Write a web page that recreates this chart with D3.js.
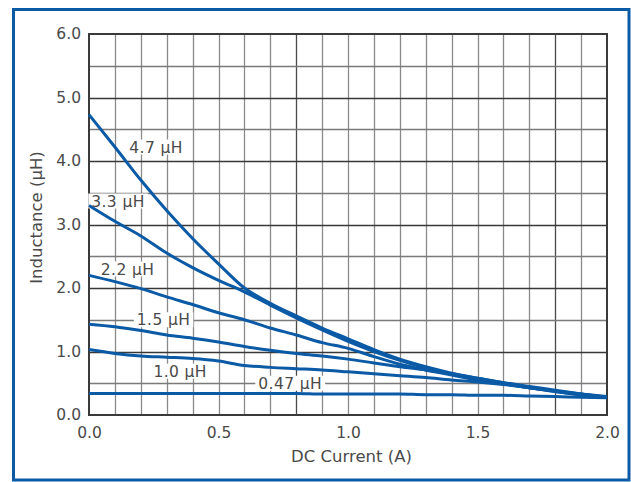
<!DOCTYPE html>
<html>
<head>
<meta charset="utf-8">
<script src="https://cdn.jsdelivr.net/npm/d3@7"></script>
<style>
  html, body { margin: 0; padding: 0; background: #fff; }
  svg { display: block; }
  text { font-family: "DejaVu Sans", "Liberation Sans", sans-serif; }
</style>
</head>
<body>
<svg id="chart" width="631" height="482"></svg>
<script>
// ---- data ----
const currents = [0, 0.1, 0.2, 0.3, 0.4, 0.5, 0.6, 0.7, 0.8, 0.9, 1.0, 1.1, 1.2, 1.3, 1.4, 1.5, 1.6, 1.7, 1.8, 1.9, 2.0];
const seriesNames = ["4.7 μH", "3.3 μH", "2.2 μH", "1.5 μH", "1.0 μH", "0.47 μH"];
const L4_7 = [4.73, 4.22, 3.70, 3.22, 2.78, 2.38, 2.00, 1.76, 1.56, 1.37, 1.20, 1.03, 0.88, 0.76, 0.66, 0.58, 0.51, 0.44, 0.38, 0.33, 0.29];
const L3_3 = [3.30, 3.05, 2.82, 2.55, 2.32, 2.12, 1.94, 1.73, 1.53, 1.34, 1.16, 1.00, 0.86, 0.74, 0.64, 0.56, 0.49, 0.43, 0.37, 0.32, 0.28];
const L2_2 = [2.20, 2.10, 1.99, 1.86, 1.74, 1.61, 1.50, 1.37, 1.26, 1.14, 1.05, 0.92, 0.80, 0.71, 0.63, 0.55, 0.49, 0.43, 0.37, 0.32, 0.28];
const L1_5 = [1.43, 1.39, 1.33, 1.26, 1.21, 1.15, 1.08, 1.02, 0.97, 0.93, 0.88, 0.82, 0.76, 0.71, 0.65, 0.58, 0.51, 0.45, 0.39, 0.33, 0.28];
const L1_0 = [1.03, 0.97, 0.93, 0.91, 0.89, 0.85, 0.78, 0.75, 0.73, 0.71, 0.68, 0.65, 0.62, 0.59, 0.55, 0.52, 0.48, 0.43, 0.38, 0.33, 0.28];
const L0_47 = [0.34, 0.34, 0.34, 0.34, 0.34, 0.34, 0.34, 0.34, 0.34, 0.33, 0.33, 0.33, 0.33, 0.32, 0.32, 0.31, 0.31, 0.30, 0.29, 0.28, 0.27];
const seriesValues = [L4_7, L3_3, L2_2, L1_5, L1_0, L0_47];
const xTicks = [0, 0.5, 1.0, 1.5, 2.0];
const yTicks = [0, 1, 2, 3, 4, 5, 6];
const xTitle = "DC Current (A)";
const yTitle = "Inductance (μH)";

// label anchor positions (data coordinates) — layout, not data
const labelX = [0.259, 0.112, 0.149, 0.288, 0.352, 0.777];
const labelY = [4.22, 3.37, 2.30, 1.50, 0.69, 0.50];

// ---- layout ----
const svg = d3.select("#chart");
const plot = { left: 89, right: 607, top: 34, bottom: 415 };
const x = d3.scaleLinear().domain([0, 2]).range([plot.left, plot.right]);
const y = d3.scaleLinear().domain([0, 6]).range([plot.bottom, plot.top]);
const blue = "#0a5aa6";
const textCol = "#4a4a4a";

svg.append("rect").attr("width", 631).attr("height", 482).attr("fill", "#fff");
// outer blue frame
svg.append("rect")
  .attr("x", 13.5).attr("y", 9.5).attr("width", 615.5).attr("height", 470.5)
  .attr("fill", "none").attr("stroke", blue).attr("stroke-width", 3);

// grid
const g = svg.append("g");
const vGrid = d3.range(1, 20).map(i => i / 10);
g.selectAll("line.v").data(vGrid).join("line")
  .attr("x1", d => Math.round(x(d)) + 0.5).attr("x2", d => Math.round(x(d)) + 0.5)
  .attr("y1", plot.top).attr("y2", plot.bottom)
  .attr("stroke", (d, i) => (i === 7 || i === 17) ? "#4a4a4a" : "#8a8a8a")
  .attr("stroke-width", 1.3);
const hGrid = d3.range(1, 12).map(i => i / 2);
g.selectAll("line.h").data(hGrid).join("line")
  .attr("y1", d => Math.round(y(d)) + 0.5).attr("y2", d => Math.round(y(d)) + 0.5)
  .attr("x1", plot.left).attr("x2", plot.right)
  .attr("stroke", d => (d % 1 === 0) ? "#383838" : "#7a7a7a")
  .attr("stroke-width", 1.3);
// plot frame
svg.append("rect")
  .attr("x", plot.left).attr("y", plot.top)
  .attr("width", plot.right - plot.left).attr("height", plot.bottom - plot.top)
  .attr("fill", "none").attr("stroke", "#3a3a3a").attr("stroke-width", 2);

// axes
const fmt = d3.format(".1f");
const xAxis = svg.append("g").attr("transform", `translate(0,${plot.bottom})`)
  .call(d3.axisBottom(x).tickValues(xTicks).tickFormat(fmt).tickSize(0).tickPadding(11.5));
const yAxis = svg.append("g").attr("transform", `translate(${plot.left},0)`)
  .call(d3.axisLeft(y).tickValues(yTicks).tickFormat(fmt).tickSize(0).tickPadding(8));
[xAxis, yAxis].forEach(a => {
  a.select(".domain").remove();
  a.selectAll("text").attr("font-family", "DejaVu Sans").attr("font-size", 15.5).attr("fill", textCol);
});

svg.append("text").attr("x", 351.5).attr("y", 462).attr("text-anchor", "middle")
  .attr("font-size", 16.5).attr("fill", textCol).text(xTitle);
svg.append("text").attr("transform", "translate(42,217.5) rotate(-90)").attr("text-anchor", "middle")
  .attr("font-size", 16.5).attr("fill", textCol).text(yTitle);

// labels with white background
const lab = svg.append("g");
seriesNames.forEach((name, i) => {
  const t = lab.append("text")
    .attr("x", x(labelX[i])).attr("y", y(labelY[i]))
    .attr("dy", "0.36em").attr("text-anchor", "middle")
    .attr("font-size", 15.5).attr("letter-spacing", 0.4).attr("fill", textCol).text(name);
  const bb = t.node().getBBox();
  lab.insert("rect", "text")
    .attr("x", bb.x - 3).attr("y", y(labelY[i]) - 7.5)
    .attr("width", bb.width + 6).attr("height", 15).attr("fill", "#fff");
});

// curves
const line = d3.line().x((d, i) => x(currents[i])).y(d => y(d)).curve(d3.curveMonotoneX);
svg.append("g").selectAll("path").data(seriesValues).join("path")
  .attr("d", d => line(d))
  .attr("fill", "none").attr("stroke", blue).attr("stroke-width", 3)
  .attr("stroke-linejoin", "round").attr("stroke-linecap", "butt");
</script>
</body>
</html>
